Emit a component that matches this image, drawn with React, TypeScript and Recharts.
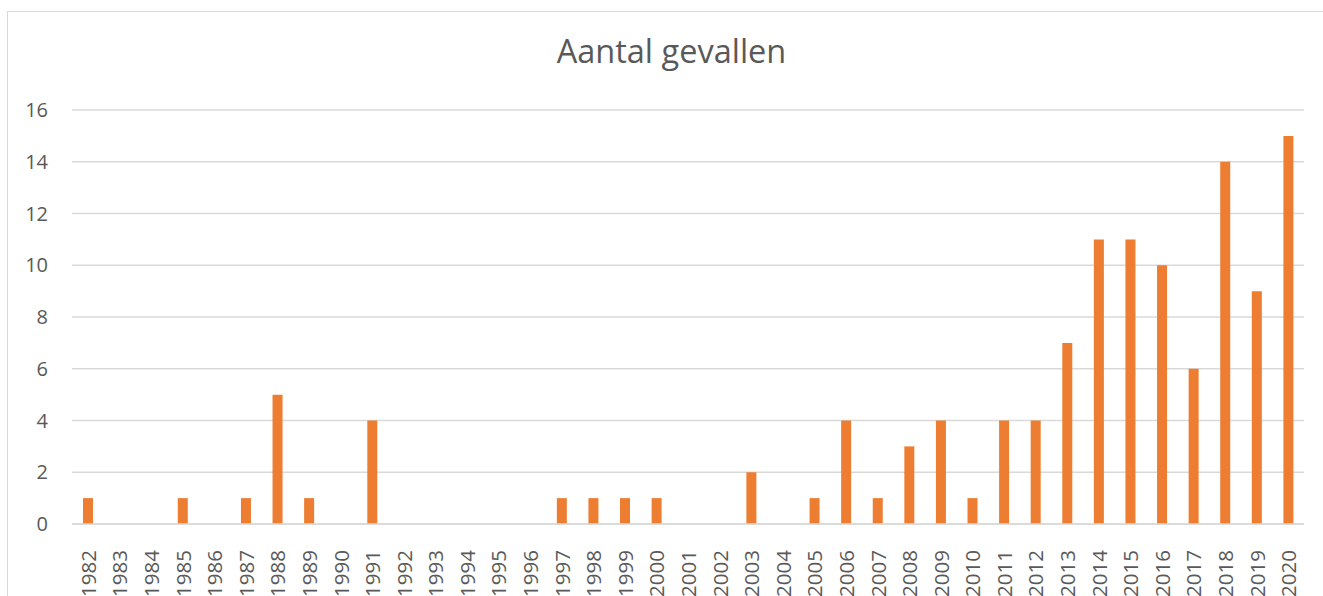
import { BarChart, Bar, XAxis, YAxis, CartesianGrid } from "recharts";

const years = [
  "1982", "1983", "1984", "1985", "1986", "1987", "1988", "1989", "1990", "1991",
  "1992", "1993", "1994", "1995", "1996", "1997", "1998", "1999", "2000", "2001",
  "2002", "2003", "2004", "2005", "2006", "2007", "2008", "2009", "2010", "2011",
  "2012", "2013", "2014", "2015", "2016", "2017", "2018", "2019", "2020",
];

const cases = [
  1, 0, 0, 1, 0, 1, 5, 1, 0, 4,
  0, 0, 0, 0, 0, 1, 1, 1, 1, 0,
  0, 2, 0, 1, 4, 1, 3, 4, 1, 4,
  4, 7, 11, 11, 10, 6, 14, 9, 15,
];

const yTicks = [0, 2, 4, 6, 8, 10, 12, 14, 16];

const data = years.map((year, i) => ({ year, value: cases[i] }));

const textColor = "#595959";
const font = "'Open Sans', sans-serif";

function YearTick(props: any) {
  const { x, y, payload } = props;
  return (
    <text
      x={0}
      y={0}
      transform={`translate(${x},${y + 18}) rotate(-90)`}
      textAnchor="end"
      dominantBaseline="central"
      fill={textColor}
      fontSize={20.5}
      fontFamily={font}
    >
      {payload.value}
    </text>
  );
}

export default function App() {
  return (
    <div style={{ position: "absolute", left: 0, top: 0, width: 1323, height: 596, overflow: "hidden", background: "#fff" }}>
      <div
        style={{
          position: "absolute",
          left: 7,
          top: 11,
          width: 1340,
          height: 620,
          border: "1px solid #d9d9d9",
        }}
      />
      <div
        style={{
          position: "absolute",
          left: 0,
          width: 1343,
          top: 35,
          textAlign: "center",
          fontFamily: font,
          fontSize: 32.5,
          lineHeight: "32px",
          color: textColor,
        }}
      >
        Aantal gevallen
      </div>
      <div style={{ position: "absolute", left: 0, top: 0 }}>
        <BarChart
          width={1323}
          height={596}
          data={data}
          margin={{ top: 110, right: 19, left: 0, bottom: 0 }}
        >
          <CartesianGrid vertical={false} stroke="#d9d9d9" strokeWidth={1.5} />
          <XAxis
            dataKey="year"
            interval={0}
            height={72}
            tickLine={false}
            axisLine={{ stroke: "#d9d9d9", strokeWidth: 1.5 }}
            tick={<YearTick />}
          />
          <YAxis
            width={72}
            domain={[0, 16]}
            ticks={yTicks}
            axisLine={false}
            tickLine={false}
            tickSize={0}
            tickMargin={24}
            tick={{ fill: textColor, fontSize: 20, fontFamily: font }}
          />
          <Bar dataKey="value" fill="#ED7D31" barSize={10} isAnimationActive={false} />
        </BarChart>
      </div>
    </div>
  );
}
